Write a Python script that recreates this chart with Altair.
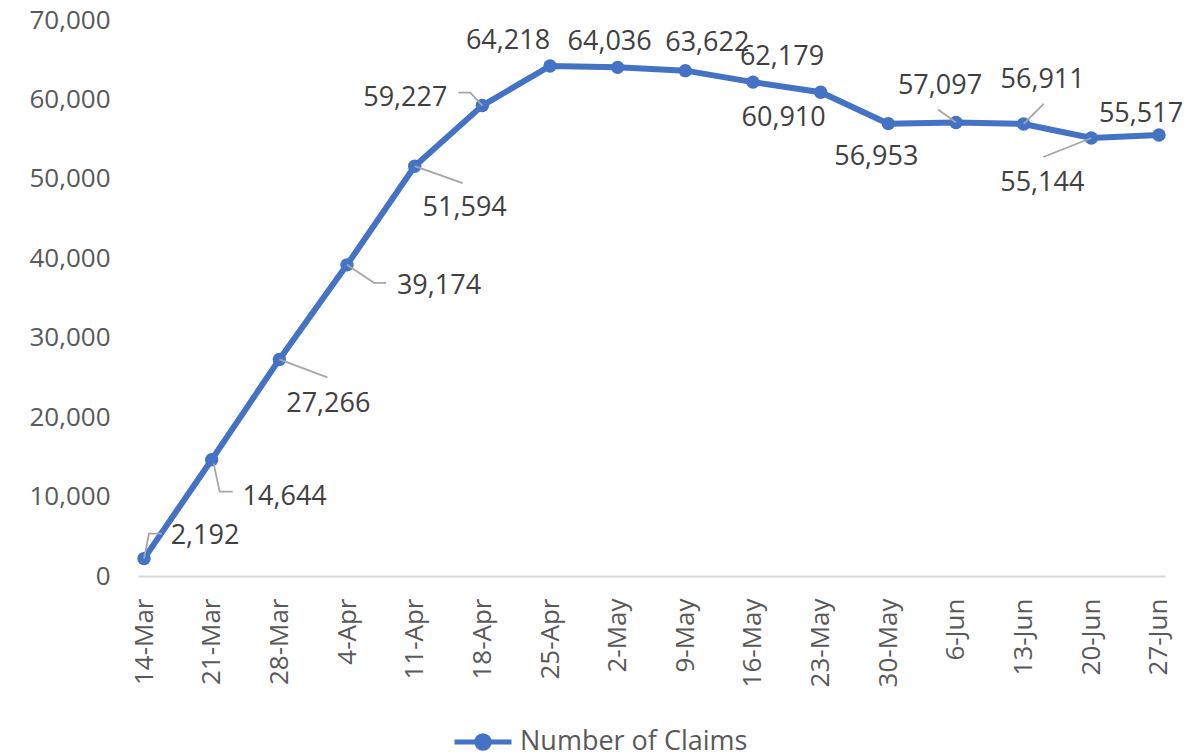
import altair as alt
import pandas as pd

# ---- data ----
dates = ["14-Mar", "21-Mar", "28-Mar", "4-Apr", "11-Apr", "18-Apr", "25-Apr", "2-May",
         "9-May", "16-May", "23-May", "30-May", "6-Jun", "13-Jun", "20-Jun", "27-Jun"]
claims = [2192, 14644, 27266, 39174, 51594, 59227, 64218, 64036,
          63622, 62179, 60910, 56953, 57097, 56911, 55144, 55517]
series_name = "Number of Claims"

# ---- label placement (pixel offsets from each point) ----
label_dx = [61, 73, 49, 92, 50, -77, -42, -8, 22, 29, -37, -12, -16, 19, -49, -18]
label_dy = [-23, 37, 45, 21, 42, -8, -25, -25, -28, -25, 26, 33, -36, -44, 45, -21]
# leader line vertices (pixel offsets from the point), per point index
leaders = {
    0: [(0, 0), (5, -25), (18, -25)],
    1: [(2, 4), (8, 32), (21, 32)],
    2: [(0, 0), (48, 18)],
    3: [(0, 0), (27, 18), (39, 18)],
    4: [(0, 0), (48, 17)],
    5: [(0, 0), (-12, -13), (-24, -13)],
    12: [(0, 0), (-18, -13)],
    13: [(0, 0), (20, -20)],
    14: [(0, 0), (-48, 19)],
}

W, H = 1027, 556
XMIN, XMAX = -0.0887, 15.0887
YMIN, YMAX = 0, 70000
px_x = W / (XMAX - XMIN)
px_y = H / (YMAX - YMIN)

BLUE = "#4472C4"
FONT = "Open Sans"

idx = list(range(len(dates)))
df = pd.DataFrame({"i": idx, "date": dates, "value": claims, "series": series_name})

lab = pd.DataFrame({
    "lx": [i + dx / px_x for i, dx in zip(idx, label_dx)],
    "ly": [v - dy / px_y for v, dy in zip(claims, label_dy)],
    "text": [f"{v:,}" for v in claims],
})

rows = []
for k, pts in leaders.items():
    for o, (dx, dy) in enumerate(pts):
        rows.append({"id": k, "o": o, "x": k + dx / px_x, "y": claims[k] - dy / px_y})
lead = pd.DataFrame(rows)

xscale = alt.Scale(domain=[XMIN, XMAX], nice=False, zero=False)
yscale = alt.Scale(domain=[YMIN, YMAX], nice=False)

label_expr = "[" + ",".join(f"'{d}'" for d in dates) + "][datum.value]"

xaxis = alt.Axis(values=idx, labelExpr=label_expr, labelAngle=-90, labelAlign="right",
                 labelBaseline="middle", labelFontSize=26, labelFont=FONT, labelColor="#595959",
                 labelPadding=22, ticks=False, grid=False, domainColor="#D9D9D9",
                 domainWidth=2, title=None, labelOverlap=False)
yaxis = alt.Axis(values=list(range(0, 70001, 10000)), format=",.0f", labelFontSize=26,
                 labelFont=FONT, labelColor="#595959", labelPadding=28, ticks=False,
                 grid=False, domain=False, title=None, labelOverlap=False)

legend_symbol = ("M-1,0H1M-0.22,0a0.22,0.22 0 1,0 0.44,0a0.22,0.22 0 1,0 -0.44,0")

line = alt.Chart(df).mark_line(strokeWidth=6, point=alt.OverlayMarkDef(size=180, filled=True, opacity=1)).encode(
    x=alt.X("i:Q", scale=xscale, axis=xaxis),
    y=alt.Y("value:Q", scale=yscale, axis=yaxis),
    color=alt.Color("series:N", scale=alt.Scale(range=[BLUE]),
                    legend=alt.Legend(title=None, orient="none", legendX=314, legendY=691,
                                      symbolType=legend_symbol, symbolSize=3249,
                                      symbolStrokeWidth=5, symbolFillColor=BLUE,
                                      labelFont=FONT, labelFontSize=27, labelColor="#595959",
                                      labelLimit=500, padding=0, labelOffset=6)),
)

leader = alt.Chart(lead).mark_line(color="#A6A6A6", strokeWidth=1.8).encode(
    x=alt.X("x:Q", scale=xscale, axis=xaxis),
    y=alt.Y("y:Q", scale=yscale, axis=yaxis),
    detail="id:N",
    order="o:Q",
)

labels = alt.Chart(lab).mark_text(font=FONT, fontSize=27, color="#404040",
                                   align="center", baseline="middle").encode(
    x=alt.X("lx:Q", scale=xscale, axis=xaxis),
    y=alt.Y("ly:Q", scale=yscale, axis=yaxis),
    text="text:N",
)

chart = alt.layer(line, leader, labels).properties(
    width=W, height=H,
    background="white",
    autosize=alt.AutoSizeParams(type="none"),
    padding={"left": 130, "top": 12, "right": 30, "bottom": 178},
).configure_view(strokeOpacity=0, strokeWidth=0)

chart.save("out.html", embed_options={"renderer": "svg", "actions": False})
